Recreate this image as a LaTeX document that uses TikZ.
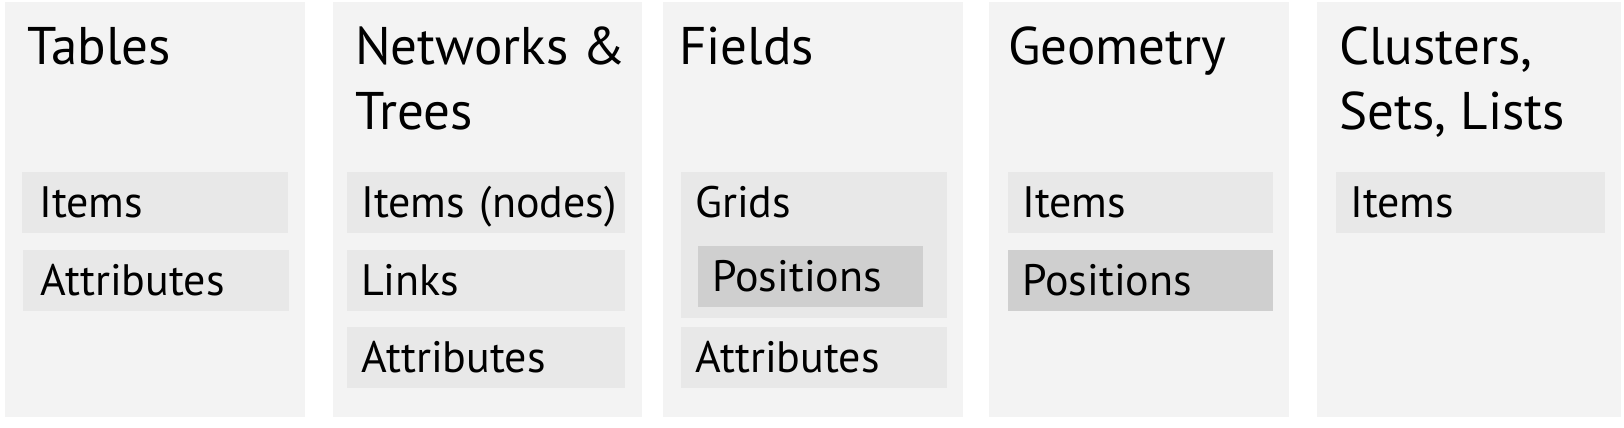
\documentclass[tikz,border=0pt]{standalone}
\usepackage{fontspec}
\setmainfont{PT Sans}
\definecolor{panelgray}{HTML}{F3F3F3}
\definecolor{boxgray}{HTML}{E8E8E8}
\definecolor{posgray}{HTML}{CFCFCF}

\begin{document}
\begin{tikzpicture}[x=1pt, y=-1pt,
    panel/.style={fill=panelgray, anchor=north west, inner sep=0pt, minimum height=415pt},
    title/.style={anchor=base west, inner sep=0pt, align=left, font=\fontsize{53}{65}\selectfont},
    itembox/.style={fill=#1, anchor=north west, inner xsep=14pt, inner ysep=0pt, align=left,
        font=\fontsize{44}{48}\selectfont, text height=45pt, text depth=16pt},
    itembox/.default=boxgray]
\fill[white] (0,0) rectangle (1624,428);

\node[panel, minimum width=300pt] (tables) at (5,2) {};
\node[panel, minimum width=309pt] (networks) at (333,2) {};
\node[panel, minimum width=300pt] (fields) at (663,2) {};
\node[panel, minimum width=300pt] (geometry) at (989,2) {};
\node[panel, minimum width=304pt] (clusters) at (1317,2) {};

% two-line titles sit on their last baseline
\node[title] (tables-t) at (27,64) {Tables};
\node[title] (networks-t) at (355,129) {Networks \&\\Trees};
\node[title] (fields-t) at (679,64) {Fields};
\node[title] (geometry-t) at (1008,64) {Geometry};
\node[title] (clusters-t) at (1339,129) {Clusters,\\Sets, Lists};

% tables
\node[itembox, inner xsep=17pt, text width=232pt] (tab-items) at (22,172) {Items};
\node[itembox, inner xsep=17pt, text width=232pt] (tab-attr) at (23,250) {Attributes};

% networks & trees
\node[itembox, text width=250pt] (net-items) at (347,172) {Items~(nodes)};
\node[itembox, text width=250pt] (net-links) at (347,250) {Links};
\node[itembox, text width=250pt] (net-attr) at (347,327) {Attributes};

% fields
\node[itembox, text width=238pt, text depth=101pt] (fld-grids) at (681,172) {Grids};
\node[itembox=posgray, text width=197pt] (fld-pos) at (698,246) {Positions};
\node[itembox, text width=238pt] (fld-attr) at (681,327) {Attributes};

% geometry
\node[itembox, text width=237pt] (geo-items) at (1008,172) {Items};
\node[itembox=posgray, text width=237pt] (geo-pos) at (1008,250) {Positions};

% clusters, sets, lists
\node[itembox, text width=241pt] (clu-items) at (1336,172) {Items};
\end{tikzpicture}
\end{document}
